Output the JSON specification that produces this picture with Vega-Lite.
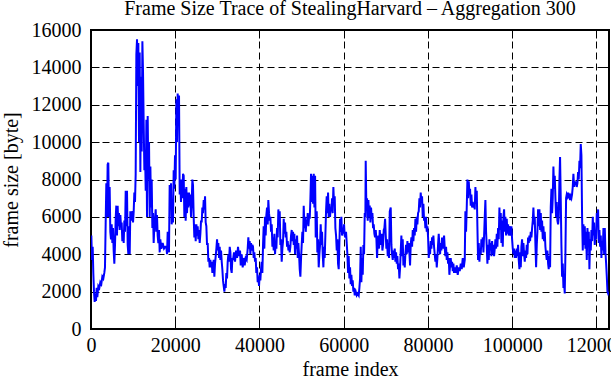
{
"$schema": "https://vega.github.io/schema/vega-lite/v6.json",
"width": 518, "height": 299,
"autosize": {"type": "none"},
"padding": {"left": 91, "top": 30, "right": 2, "bottom": 51},
"background": "white",
"title": {"text": "Frame Size Trace of StealingHarvard – Aggregation 300", "font": "Liberation Serif", "fontSize": 20, "fontWeight": "normal", "color": "black", "anchor": "middle", "baseline": "alphabetic", "offset": -15},
"config": {
  "view": {"stroke": "black", "strokeWidth": 2},
  "axis": {"labelFont": "Liberation Serif", "labelFontSize": 20, "labelColor": "black", "labelFlush": false, "titleFont": "Liberation Serif", "titleFontSize": 20, "titleFontWeight": "normal", "titleColor": "black", "tickColor": "black", "tickWidth": 1, "domain": false, "gridColor": "black", "gridDash": [7, 4], "gridWidth": 1, "gridOpacity": 1}
},
"data": {"values": [
{"frame":80,"size":5000},{"frame":240,"size":3700},{"frame":400,"size":4400},{"frame":550,"size":3000},{"frame":710,"size":2000},{"frame":870,"size":1450},{"frame":1030,"size":1900},{"frame":1190,"size":1500},{"frame":1340,"size":2200},{"frame":1500,"size":1700},{"frame":1740,"size":2300},{"frame":1980,"size":2200},{"frame":2210,"size":2500},{"frame":2450,"size":2400},{"frame":2690,"size":2800},{"frame":2930,"size":2700},{"frame":3160,"size":3000},{"frame":3320,"size":3300},{"frame":3480,"size":5600},{"frame":3640,"size":7800},{"frame":3800,"size":6000},{"frame":3950,"size":8800},{"frame":4110,"size":8900},{"frame":4270,"size":6000},{"frame":4430,"size":7600},{"frame":4590,"size":5200},{"frame":4750,"size":4800},{"frame":4910,"size":5600},{"frame":5070,"size":4600},{"frame":5220,"size":5400},{"frame":5380,"size":4200},{"frame":5540,"size":3500},{"frame":5700,"size":4500},{"frame":5860,"size":5900},{"frame":6010,"size":6600},{"frame":6170,"size":5000},{"frame":6330,"size":6600},{"frame":6490,"size":5500},{"frame":6650,"size":6200},{"frame":6810,"size":5300},{"frame":6970,"size":6100},{"frame":7120,"size":5500},{"frame":7280,"size":5700},{"frame":7440,"size":4700},{"frame":7600,"size":5300},{"frame":7760,"size":4600},{"frame":7920,"size":5800},{"frame":8080,"size":5200},{"frame":8240,"size":7400},{"frame":8390,"size":5500},{"frame":8550,"size":7400},{"frame":8710,"size":4500},{"frame":8870,"size":4000},{"frame":9030,"size":5500},{"frame":9190,"size":4000},{"frame":9340,"size":6300},{"frame":9500,"size":5800},{"frame":9660,"size":6300},{"frame":9820,"size":6200},{"frame":9980,"size":5700},{"frame":10140,"size":6300},{"frame":10290,"size":7300},{"frame":10450,"size":6800},{"frame":10610,"size":8300},{"frame":10770,"size":14700},{"frame":10930,"size":15500},{"frame":11080,"size":13000},{"frame":11240,"size":15300},{"frame":11400,"size":10000},{"frame":11560,"size":14800},{"frame":11720,"size":8400},{"frame":11880,"size":13500},{"frame":12040,"size":9500},{"frame":12200,"size":15400},{"frame":12350,"size":13800},{"frame":12510,"size":11000},{"frame":12670,"size":8500},{"frame":12830,"size":9500},{"frame":12990,"size":7400},{"frame":13150,"size":11200},{"frame":13300,"size":6000},{"frame":13460,"size":11400},{"frame":13620,"size":8000},{"frame":13780,"size":10000},{"frame":13940,"size":6000},{"frame":14100,"size":8700},{"frame":14250,"size":6500},{"frame":14410,"size":8000},{"frame":14570,"size":5400},{"frame":14730,"size":6200},{"frame":14880,"size":4600},{"frame":15040,"size":5500},{"frame":15200,"size":5900},{"frame":15360,"size":6400},{"frame":15510,"size":5200},{"frame":15670,"size":6100},{"frame":15830,"size":5000},{"frame":15990,"size":4600},{"frame":16150,"size":5300},{"frame":16310,"size":4100},{"frame":16460,"size":4800},{"frame":16700,"size":4300},{"frame":17020,"size":4600},{"frame":17340,"size":4300},{"frame":17650,"size":4400},
{"frame":17890,"size":4400},{"frame":18050,"size":4000},{"frame":18210,"size":5200},{"frame":18360,"size":4500},{"frame":18520,"size":4100},{"frame":18680,"size":7700},{"frame":18840,"size":6500},{"frame":19000,"size":7800},{"frame":19160,"size":5600},{"frame":19310,"size":6300},{"frame":19470,"size":5700},{"frame":19630,"size":8500},{"frame":19790,"size":7500},{"frame":19950,"size":9300},{"frame":20110,"size":8000},{"frame":20270,"size":12300},{"frame":20420,"size":10000},{"frame":20580,"size":12600},{"frame":20740,"size":11000},{"frame":20900,"size":12500},{"frame":21060,"size":7200},{"frame":21220,"size":8000},{"frame":21370,"size":6800},{"frame":21530,"size":8000},{"frame":21690,"size":7000},{"frame":21850,"size":8300},{"frame":22010,"size":8200},{"frame":22170,"size":6000},{"frame":22320,"size":7500},{"frame":22480,"size":5800},{"frame":22640,"size":7600},{"frame":22800,"size":6200},{"frame":22960,"size":7300},{"frame":23120,"size":6500},{"frame":23270,"size":7300},{"frame":23430,"size":6600},{"frame":23590,"size":7200},{"frame":23750,"size":6000},{"frame":23910,"size":6800},{"frame":24070,"size":8000},{"frame":24220,"size":7700},{"frame":24380,"size":6000},{"frame":24540,"size":4900},{"frame":24700,"size":5600},{"frame":24860,"size":4700},{"frame":25020,"size":5600},{"frame":25180,"size":5000},{"frame":25330,"size":5500},{"frame":25490,"size":4800},{"frame":25650,"size":5300},{"frame":25810,"size":4600},{"frame":25970,"size":5100},{"frame":26130,"size":5800},{"frame":26280,"size":5700},{"frame":26440,"size":6500},{"frame":26600,"size":6200},{"frame":26760,"size":6900},{"frame":26920,"size":6400},{"frame":27080,"size":7100},{"frame":27230,"size":5700},{"frame":27390,"size":5500},{"frame":27550,"size":4500},{"frame":27710,"size":4600},{"frame":27870,"size":3600},{"frame":28030,"size":3800},{"frame":28180,"size":3300},{"frame":28340,"size":3700},{"frame":28500,"size":3300},{"frame":28660,"size":3600},{"frame":28820,"size":3000},{"frame":28980,"size":3400},{"frame":29140,"size":3700},{"frame":29290,"size":2800},{"frame":29450,"size":3500},{"frame":29610,"size":3900},{"frame":29770,"size":4300},{"frame":29930,"size":4800},{"frame":30090,"size":4200},{"frame":30240,"size":4600},{"frame":30400,"size":3800},{"frame":30560,"size":4400},{"frame":30720,"size":3700},{"frame":30880,"size":4200},{"frame":31040,"size":3600},{"frame":31190,"size":3200},{"frame":31350,"size":2600},{"frame":31510,"size":2300},{"frame":31670,"size":2000},{"frame":31830,"size":2400},{"frame":31990,"size":2200},{"frame":32140,"size":3000},{"frame":32300,"size":2700},{"frame":32460,"size":3600},{"frame":32620,"size":4000},{"frame":32780,"size":3600},{"frame":32940,"size":4400},{"frame":33100,"size":4100},{"frame":33250,"size":3200},{"frame":33410,"size":3000},{"frame":33570,"size":3800},{"frame":33730,"size":3700},{"frame":33960,"size":4100},{"frame":34200,"size":3600},{"frame":34440,"size":4200},{"frame":34680,"size":3800},{"frame":34910,"size":4400},{"frame":35150,"size":3900},{"frame":35390,"size":4200},
{"frame":35550,"size":3400},{"frame":35780,"size":4000},{"frame":36020,"size":3300},{"frame":36260,"size":3800},{"frame":36490,"size":3400},{"frame":36730,"size":3800},{"frame":36970,"size":3700},{"frame":37210,"size":4300},{"frame":37360,"size":4900},{"frame":37520,"size":4300},{"frame":37680,"size":4700},{"frame":37840,"size":4000},{"frame":38000,"size":4600},{"frame":38160,"size":4200},{"frame":38310,"size":4500},{"frame":38470,"size":4400},{"frame":38630,"size":3800},{"frame":38790,"size":4100},{"frame":38950,"size":3600},{"frame":39110,"size":3800},{"frame":39260,"size":3000},{"frame":39420,"size":3300},{"frame":39580,"size":2500},{"frame":39740,"size":2800},{"frame":39900,"size":2300},{"frame":40050,"size":2900},{"frame":40210,"size":2600},{"frame":40370,"size":3200},{"frame":40530,"size":3600},{"frame":40690,"size":3000},{"frame":40850,"size":4500},{"frame":41000,"size":5500},{"frame":41160,"size":4300},{"frame":41320,"size":6000},{"frame":41480,"size":5000},{"frame":41640,"size":6100},{"frame":41800,"size":6500},{"frame":41960,"size":5600},{"frame":42110,"size":6900},{"frame":42270,"size":6200},{"frame":42430,"size":5800},{"frame":42590,"size":6000},{"frame":42750,"size":5200},{"frame":42910,"size":5600},{"frame":43070,"size":4400},{"frame":43220,"size":4900},{"frame":43380,"size":4200},{"frame":43540,"size":5100},{"frame":43700,"size":4000},{"frame":43860,"size":4700},{"frame":44020,"size":4300},{"frame":44170,"size":5400},{"frame":44330,"size":4900},{"frame":44490,"size":6400},{"frame":44650,"size":5600},{"frame":44810,"size":6300},{"frame":44970,"size":4500},{"frame":45120,"size":4800},{"frame":45280,"size":3600},{"frame":45440,"size":4300},{"frame":45600,"size":4700},{"frame":45760,"size":5900},{"frame":45920,"size":5100},{"frame":46080,"size":5700},{"frame":46230,"size":4900},{"frame":46390,"size":5200},{"frame":46550,"size":4400},{"frame":46710,"size":4700},{"frame":46870,"size":4200},{"frame":47030,"size":4500},{"frame":47180,"size":4100},{"frame":47340,"size":4400},{"frame":47500,"size":5000},{"frame":47660,"size":5300},{"frame":47820,"size":4700},{"frame":47980,"size":5200},{"frame":48140,"size":4500},{"frame":48290,"size":5100},{"frame":48450,"size":4000},{"frame":48610,"size":4800},{"frame":48770,"size":4300},{"frame":48930,"size":5000},{"frame":49090,"size":3800},{"frame":49240,"size":4600},{"frame":49400,"size":4000},{"frame":49560,"size":3200},{"frame":49720,"size":2800},{"frame":49880,"size":3800},{"frame":50030,"size":4500},{"frame":50190,"size":5200},{"frame":50350,"size":4600},{"frame":50510,"size":6600},{"frame":50670,"size":5400},{"frame":50830,"size":6000},{"frame":50990,"size":5200},{"frame":51140,"size":5800},{"frame":51300,"size":5600},{"frame":51460,"size":6200},{"frame":51620,"size":5500},{"frame":51780,"size":6000},{"frame":51940,"size":5900},{"frame":52100,"size":7000},{"frame":52250,"size":8300},{"frame":52410,"size":6800},{"frame":52570,"size":8200},{"frame":52730,"size":6700},{"frame":52890,"size":8300},{"frame":53050,"size":6500},{"frame":53210,"size":8200},{"frame":53360,"size":4900},
{"frame":53600,"size":6300},{"frame":53750,"size":4100},{"frame":53910,"size":4800},{"frame":54070,"size":3300},{"frame":54230,"size":4000},{"frame":54390,"size":4500},{"frame":54540,"size":5600},{"frame":54700,"size":4500},{"frame":54860,"size":5200},{"frame":55020,"size":4000},{"frame":55180,"size":3300},{"frame":55340,"size":4400},{"frame":55490,"size":3800},{"frame":55650,"size":5000},{"frame":55810,"size":6300},{"frame":55970,"size":7100},{"frame":56130,"size":6200},{"frame":56290,"size":7300},{"frame":56440,"size":6000},{"frame":56600,"size":6700},{"frame":56760,"size":6000},{"frame":56920,"size":6500},{"frame":57080,"size":6300},{"frame":57240,"size":7000},{"frame":57390,"size":6200},{"frame":57550,"size":7600},{"frame":57710,"size":6700},{"frame":57870,"size":7100},{"frame":58030,"size":5400},{"frame":58190,"size":5000},{"frame":58350,"size":4200},{"frame":58500,"size":4800},{"frame":58660,"size":3500},{"frame":58820,"size":3200},{"frame":58980,"size":4600},{"frame":59140,"size":5900},{"frame":59300,"size":5200},{"frame":59450,"size":6000},{"frame":59610,"size":5000},{"frame":59770,"size":5300},{"frame":59930,"size":5100},{"frame":60090,"size":5600},{"frame":60240,"size":5000},{"frame":60400,"size":4900},{"frame":60560,"size":5200},{"frame":60720,"size":4600},{"frame":60880,"size":4000},{"frame":61040,"size":3000},{"frame":61190,"size":3900},{"frame":61350,"size":2700},{"frame":61510,"size":3300},{"frame":61670,"size":2400},{"frame":61830,"size":2900},{"frame":61990,"size":2300},{"frame":62140,"size":2600},{"frame":62300,"size":2000},{"frame":62460,"size":2200},{"frame":62620,"size":1800},{"frame":62860,"size":2000},{"frame":63090,"size":1800},{"frame":63330,"size":1900},{"frame":63570,"size":1800},{"frame":63730,"size":2200},{"frame":63890,"size":2700},{"frame":64050,"size":4400},{"frame":64200,"size":2500},{"frame":64360,"size":3800},{"frame":64520,"size":2900},{"frame":64680,"size":4500},{"frame":64840,"size":4000},{"frame":65000,"size":6200},{"frame":65150,"size":6000},{"frame":65230,"size":9000},{"frame":65390,"size":6400},{"frame":65550,"size":7000},{"frame":65710,"size":5800},{"frame":65870,"size":6900},{"frame":66020,"size":6000},{"frame":66180,"size":6600},{"frame":66340,"size":5700},{"frame":66500,"size":6500},{"frame":66660,"size":5900},{"frame":66820,"size":6200},{"frame":66980,"size":5400},{"frame":67130,"size":5600},{"frame":67290,"size":5100},{"frame":67450,"size":4900},{"frame":67610,"size":5300},{"frame":67770,"size":4800},{"frame":67930,"size":3800},{"frame":68090,"size":4800},{"frame":68240,"size":5000},{"frame":68400,"size":4300},{"frame":68560,"size":5300},{"frame":68720,"size":4800},{"frame":68880,"size":4500},{"frame":69040,"size":5100},{"frame":69190,"size":4200},{"frame":69350,"size":4500},{"frame":69510,"size":5300},{"frame":69670,"size":5400},{"frame":69830,"size":5900},{"frame":69990,"size":5000},{"frame":70140,"size":4300},{"frame":70300,"size":4800},{"frame":70460,"size":3900},{"frame":70620,"size":4600},{"frame":70780,"size":3800},{"frame":70940,"size":6300},
{"frame":71170,"size":6500},{"frame":71330,"size":4500},{"frame":71490,"size":4000},{"frame":71650,"size":3700},{"frame":71800,"size":4200},{"frame":71960,"size":3800},{"frame":72120,"size":4300},{"frame":72280,"size":3600},{"frame":72440,"size":4100},{"frame":72600,"size":3500},{"frame":72750,"size":3900},{"frame":72910,"size":3200},{"frame":73070,"size":3500},{"frame":73230,"size":2700},{"frame":73390,"size":3300},{"frame":73550,"size":4200},{"frame":73700,"size":5000},{"frame":73860,"size":3900},{"frame":74020,"size":4800},{"frame":74180,"size":3400},{"frame":74340,"size":3900},{"frame":74500,"size":3300},{"frame":74650,"size":4000},{"frame":74810,"size":4500},{"frame":74970,"size":4000},{"frame":75130,"size":4700},{"frame":75290,"size":4100},{"frame":75450,"size":4600},{"frame":75600,"size":4100},{"frame":75760,"size":3400},{"frame":75920,"size":4500},{"frame":76080,"size":4900},{"frame":76240,"size":4400},{"frame":76400,"size":5300},{"frame":76550,"size":4700},{"frame":76710,"size":5400},{"frame":76870,"size":5000},{"frame":77030,"size":5900},{"frame":77190,"size":5200},{"frame":77340,"size":6000},{"frame":77500,"size":5600},{"frame":77660,"size":6200},{"frame":77820,"size":6300},{"frame":77980,"size":7000},{"frame":78140,"size":6500},{"frame":78290,"size":7300},{"frame":78450,"size":6800},{"frame":78610,"size":7100},{"frame":78770,"size":6000},{"frame":78930,"size":6700},{"frame":79090,"size":5800},{"frame":79240,"size":6000},{"frame":79400,"size":5400},{"frame":79560,"size":6000},{"frame":79720,"size":5200},{"frame":79880,"size":5500},{"frame":80040,"size":4900},{"frame":80200,"size":3800},{"frame":80350,"size":4300},{"frame":80510,"size":4000},{"frame":80670,"size":4700},{"frame":80830,"size":4300},{"frame":80990,"size":4900},{"frame":81150,"size":4500},{"frame":81300,"size":5000},{"frame":81460,"size":4400},{"frame":81620,"size":4000},{"frame":81780,"size":3600},{"frame":81940,"size":4000},{"frame":82100,"size":3300},{"frame":82250,"size":3800},{"frame":82410,"size":4500},{"frame":82570,"size":5100},{"frame":82730,"size":4400},{"frame":82890,"size":4000},{"frame":83050,"size":4600},{"frame":83200,"size":4200},{"frame":83360,"size":4900},{"frame":83520,"size":4300},{"frame":83680,"size":4700},{"frame":83840,"size":5000},{"frame":84000,"size":4300},{"frame":84150,"size":3900},{"frame":84310,"size":4400},{"frame":84470,"size":3700},{"frame":84630,"size":4100},{"frame":84790,"size":3500},{"frame":84950,"size":3800},{"frame":85100,"size":2900},{"frame":85260,"size":3400},{"frame":85420,"size":3800},{"frame":85580,"size":3300},{"frame":85740,"size":3600},{"frame":85900,"size":3100},{"frame":86050,"size":3500},{"frame":86210,"size":3000},{"frame":86370,"size":3300},{"frame":86610,"size":3000},{"frame":86850,"size":3400},{"frame":87080,"size":2900},{"frame":87320,"size":3300},{"frame":87560,"size":3100},{"frame":87800,"size":3500},{"frame":88030,"size":3200},{"frame":88270,"size":3800},{"frame":88510,"size":3300},{"frame":88750,"size":3700},{"frame":88900,"size":6300},
{"frame":89060,"size":5200},{"frame":89220,"size":6500},{"frame":89380,"size":8000},{"frame":89540,"size":7000},{"frame":89700,"size":7900},{"frame":89860,"size":7200},{"frame":90010,"size":7500},{"frame":90170,"size":6600},{"frame":90330,"size":7200},{"frame":90490,"size":6500},{"frame":90650,"size":6800},{"frame":90800,"size":6500},{"frame":90960,"size":6700},{"frame":91120,"size":6400},{"frame":91280,"size":7600},{"frame":91440,"size":6700},{"frame":91600,"size":7400},{"frame":91750,"size":5500},{"frame":91910,"size":3700},{"frame":92070,"size":4600},{"frame":92230,"size":3600},{"frame":92390,"size":4300},{"frame":92550,"size":4000},{"frame":92700,"size":4800},{"frame":92860,"size":4400},{"frame":93020,"size":4900},{"frame":93180,"size":4100},{"frame":93340,"size":5000},{"frame":93500,"size":6000},{"frame":93650,"size":6900},{"frame":93810,"size":5200},{"frame":93970,"size":4400},{"frame":94130,"size":3500},{"frame":94290,"size":4500},{"frame":94450,"size":3700},{"frame":94600,"size":4800},{"frame":94760,"size":4200},{"frame":94920,"size":4600},{"frame":95080,"size":3900},{"frame":95240,"size":4700},{"frame":95400,"size":4000},{"frame":95550,"size":4500},{"frame":95710,"size":3900},{"frame":95870,"size":4300},{"frame":96030,"size":4800},{"frame":96190,"size":4300},{"frame":96350,"size":5100},{"frame":96500,"size":4400},{"frame":96660,"size":5400},{"frame":96820,"size":4800},{"frame":96980,"size":6500},{"frame":97140,"size":5300},{"frame":97300,"size":6200},{"frame":97450,"size":4600},{"frame":97610,"size":5800},{"frame":97770,"size":4400},{"frame":97930,"size":6000},{"frame":98090,"size":6400},{"frame":98250,"size":5200},{"frame":98400,"size":6000},{"frame":98560,"size":5000},{"frame":98720,"size":5900},{"frame":98880,"size":5100},{"frame":99040,"size":5600},{"frame":99200,"size":5000},{"frame":99350,"size":5500},{"frame":99510,"size":5300},{"frame":99670,"size":5000},{"frame":99830,"size":5500},{"frame":99990,"size":4800},{"frame":100150,"size":4300},{"frame":100310,"size":4000},{"frame":100460,"size":4300},{"frame":100620,"size":3800},{"frame":100780,"size":4200},{"frame":100940,"size":3800},{"frame":101100,"size":4300},{"frame":101250,"size":3900},{"frame":101410,"size":4500},{"frame":101570,"size":3700},{"frame":101730,"size":3200},{"frame":101890,"size":4100},{"frame":102050,"size":3300},{"frame":102200,"size":4400},{"frame":102360,"size":4800},{"frame":102520,"size":3900},{"frame":102680,"size":4600},{"frame":102840,"size":4000},{"frame":103000,"size":3600},{"frame":103150,"size":4200},{"frame":103310,"size":3800},{"frame":103470,"size":4500},{"frame":103630,"size":4000},{"frame":103790,"size":4900},{"frame":103950,"size":4600},{"frame":104100,"size":5000},{"frame":104260,"size":4700},{"frame":104420,"size":5200},{"frame":104580,"size":4900},{"frame":104740,"size":5400},{"frame":104900,"size":5800},{"frame":105050,"size":6500},{"frame":105210,"size":5600},{"frame":105370,"size":6000},{"frame":105530,"size":4500},{"frame":105690,"size":3300},{"frame":105850,"size":4500},{"frame":106000,"size":5200},{"frame":106160,"size":6400},{"frame":106320,"size":5500},{"frame":106480,"size":6400},{"frame":106640,"size":5300},
{"frame":106800,"size":6200},{"frame":106950,"size":5200},{"frame":107110,"size":5800},{"frame":107270,"size":4800},{"frame":107430,"size":5500},{"frame":107590,"size":4700},{"frame":107740,"size":5200},{"frame":107900,"size":4400},{"frame":108060,"size":4000},{"frame":108220,"size":3700},{"frame":108380,"size":4200},{"frame":108540,"size":3500},{"frame":108690,"size":3200},{"frame":108850,"size":3900},{"frame":109010,"size":3300},{"frame":109170,"size":6500},{"frame":109330,"size":7500},{"frame":109490,"size":6200},{"frame":109640,"size":7000},{"frame":109800,"size":8700},{"frame":109960,"size":7500},{"frame":110120,"size":8200},{"frame":110280,"size":7000},{"frame":110430,"size":6000},{"frame":110590,"size":6800},{"frame":110750,"size":5800},{"frame":110910,"size":5600},{"frame":111070,"size":6000},{"frame":111230,"size":8000},{"frame":111380,"size":9200},{"frame":111540,"size":7000},{"frame":111700,"size":4500},{"frame":111860,"size":2800},{"frame":112020,"size":3500},{"frame":112180,"size":2200},{"frame":112330,"size":2500},{"frame":112490,"size":1900},{"frame":112650,"size":4000},{"frame":112810,"size":7000},{"frame":112970,"size":7200},{"frame":113130,"size":7100},{"frame":113280,"size":7300},{"frame":113440,"size":7000},{"frame":113600,"size":7100},{"frame":113760,"size":6900},{"frame":113920,"size":7100},{"frame":114080,"size":7000},{"frame":114230,"size":7200},{"frame":114390,"size":7600},{"frame":114550,"size":8300},{"frame":114710,"size":7600},{"frame":114870,"size":7900},{"frame":115030,"size":7700},{"frame":115180,"size":7900},{"frame":115340,"size":7600},{"frame":115500,"size":7800},{"frame":115660,"size":8400},{"frame":115820,"size":8000},{"frame":115980,"size":9000},{"frame":116130,"size":8600},{"frame":116290,"size":9900},{"frame":116450,"size":9300},{"frame":116610,"size":6000},{"frame":116770,"size":4200},{"frame":116930,"size":5600},{"frame":117090,"size":4500},{"frame":117250,"size":5500},{"frame":117400,"size":4300},{"frame":117560,"size":5200},{"frame":117720,"size":3700},{"frame":117880,"size":5400},{"frame":118040,"size":4600},{"frame":118200,"size":5200},{"frame":118350,"size":3200},{"frame":118510,"size":4800},{"frame":118670,"size":4200},{"frame":118830,"size":5300},{"frame":118990,"size":4700},{"frame":119150,"size":6000},{"frame":119300,"size":5000},{"frame":119460,"size":5700},{"frame":119620,"size":4500},{"frame":119780,"size":5300},{"frame":119940,"size":4800},{"frame":120100,"size":6200},{"frame":120250,"size":5500},{"frame":120410,"size":6400},{"frame":120570,"size":4600},{"frame":120730,"size":5300},{"frame":120890,"size":4400},{"frame":121050,"size":5000},{"frame":121200,"size":3800},{"frame":121360,"size":4700},{"frame":121520,"size":4200},{"frame":121680,"size":5400},{"frame":121840,"size":4000},{"frame":122000,"size":5400},{"frame":122160,"size":4100},{"frame":122320,"size":3500},{"frame":122480,"size":2800},{"frame":122630,"size":2000},{"frame":122790,"size":1900},{"frame":122950,"size":2000}
]},
"layer": [
  {"mark": {"type": "line", "color": "#0000ff", "strokeWidth": 2, "clip": true},
   "encoding": {
     "x": {"field": "frame", "type": "quantitative", "scale": {"domain": [0, 123000], "nice": false, "zero": false},
           "axis": {"orient": "bottom", "values": [0, 20000, 40000, 60000, 80000, 100000, 120000], "format": "d", "tickSize": -8, "labelPadding": 14, "grid": true, "title": "frame index", "titleX": 259, "titleY": 46, "titleBaseline": "alphabetic", "titleAlign": "center"}},
     "y": {"field": "size", "type": "quantitative", "scale": {"domain": [0, 16000], "nice": false},
           "axis": {"orient": "left", "values": [0, 2000, 4000, 6000, 8000, 10000, 12000, 14000, 16000], "format": "d", "tickSize": -8, "labelPadding": 18, "grid": true, "title": "frame size [byte]", "titleX": -80, "titleY": 149.5, "titleAngle": -90, "titleBaseline": "middle", "titleAlign": "center"}}
   }},
  {"mark": {"type": "line", "opacity": 0},
   "encoding": {
     "x": {"field": "frame", "type": "quantitative", "axis": {"orient": "top", "values": [0, 20000, 40000, 60000, 80000, 100000, 120000], "labels": false, "grid": false, "tickSize": -8, "title": null}},
     "y": {"field": "size", "type": "quantitative", "axis": {"orient": "right", "values": [0, 2000, 4000, 6000, 8000, 10000, 12000, 14000, 16000], "labels": false, "grid": false, "tickSize": -8, "title": null}}
   }}
],
"resolve": {"axis": {"x": "independent", "y": "independent"}}
}
